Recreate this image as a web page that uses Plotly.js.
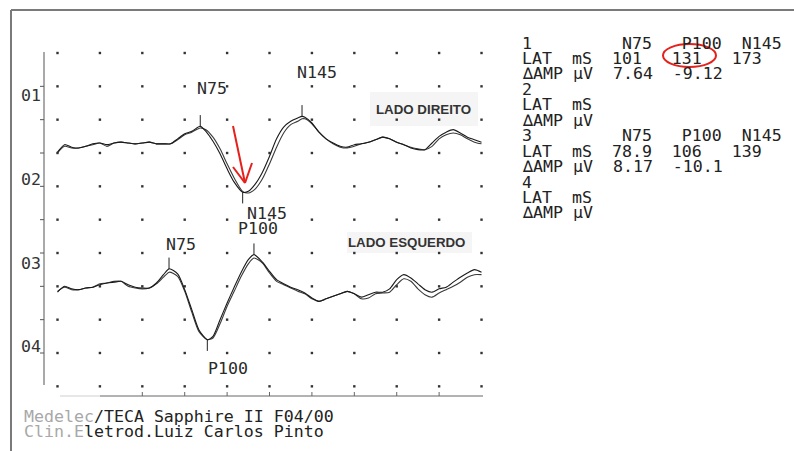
<!DOCTYPE html>
<html><head><meta charset="utf-8">
<script src="https://cdn.plot.ly/plotly-3.0.1.min.js"></script>
<style>html,body{margin:0;padding:0;background:#fff;} #chart{width:794px;height:451px;}</style>
</head><body><div id="chart"></div>
<script>
// ---- data (ms, µV; negative = up, as on the printout) ----
const timeTop = [0,5,10,15,20,25,30,35,40,45,50,55,60,65,70,75,80,85,90,95,101,105,110,115,120,125,131,135,140,145,150,155,160,165,170,173,175,180,185,190,195,200,205,210,215,220,225,230,235,240,245,250,255,260,265,270,275,280,285,290,295,300];
const topA = [0.9,0.0,0.3,0.4,0.2,-0.1,-0.2,0.0,-0.2,-0.3,-0.2,-0.1,-0.2,-0.3,-0.1,-0.1,-0.1,-0.7,-1.3,-1.6,-2.2,-1.6,-0.4,1.1,2.9,4.5,5.7,5.6,4.7,3.3,1.4,-0.7,-2.1,-2.8,-3.2,-3.4,-3.3,-2.6,-1.5,-0.7,-0.2,0.2,0.3,0.0,-0.1,-0.3,-0.6,-0.9,-0.7,-0.3,0.0,0.4,0.6,0.6,-0.2,-1.0,-1.5,-1.8,-1.4,-0.9,-0.6,-0.3];
const topB = [1.0,0.2,0.4,0.4,0.2,0.0,-0.2,0.2,-0.2,-0.3,-0.2,-0.1,-0.2,-0.3,-0.1,-0.1,-0.1,-0.6,-1.2,-1.5,-2.0,-1.8,-0.9,0.5,2.3,4.0,5.6,5.8,5.3,4.1,2.3,0.3,-1.4,-2.4,-2.8,-3.1,-3.1,-2.5,-1.5,-0.7,-0.1,0.3,0.4,0.2,-0.1,-0.3,-0.6,-0.9,-0.7,-0.3,0.0,0.3,0.5,0.6,0.2,-0.7,-1.2,-1.4,-1.2,-0.7,-0.3,-0.1];
const timeBottom = [0,5,10,15,20,25,30,35,40,45,50,55,60,65,70,75,79,85,90,95,100,106,110,115,120,125,130,135,139,145,150,155,160,165,170,175,180,185,190,195,200,205,210,215,220,225,230,235,240,245,250,255,260,265,270,275,280,285,290,295,300];
const botA = [0.7,0.0,0.3,0.4,0.2,0.1,-0.2,-0.4,-0.5,-0.6,-0.2,0.1,0.2,0.2,-0.4,-1.4,-2.1,-1.5,0.4,2.8,5.2,6.4,6.0,4.0,2.0,0.1,-1.7,-3.2,-3.8,-2.9,-1.8,-0.8,-0.3,0.1,0.4,0.8,1.4,1.8,1.5,1.2,0.9,0.6,0.9,1.3,1.0,0.7,0.7,0.3,-0.8,-1.4,-1.0,-0.3,0.4,0.7,0.3,0.1,-0.5,-1.1,-1.6,-2.0,-1.7];
const botB = [0.6,0.1,0.4,0.4,0.2,0.1,-0.3,-0.4,-0.6,-0.6,0.0,0.2,0.3,0.2,-0.3,-1.1,-1.7,-1.2,0.6,3.1,5.4,6.4,6.2,4.5,2.4,0.6,-1.2,-2.7,-3.4,-2.8,-1.6,-0.6,-0.2,0.2,0.6,0.9,1.5,1.8,1.5,1.2,0.9,0.6,0.9,1.5,1.4,0.9,0.8,0.7,-0.2,-0.9,-0.6,0.3,1.0,1.3,0.8,0.4,0.0,-0.5,-1.1,-1.4,-1.4];

const peakNames = ['N75','P100','N145'];
const latTop = [101,131,173];
const latBottom = [78.9,106,139];
const ampTop = ['7.64','-9.12'];
const ampBottom = ['8.17','-10.1'];
const channelLabels = ['01','02','03','04'];
const sideLabels = ['LADO DIREITO','LADO ESQUERDO'];
const footerLines = ['Medelec/TECA Sapphire II F04/00','Clin.Eletrod.Luiz Carlos Pinto'];
const gridTimes = [0,30,60,90,120,150,180,210,240,270,300];
const gridLevels = [0,4,8,12,16,20,24,28,32,36,40];
const xTickTimes = [60,90,120,150,180,210,240,270];
const yTickLevels = [4,8,12,16,20,24,28,32,36];

// ---- layout helpers ----
const offTop = 11, offBot = 28;           // vertical position of each pair on the sheet
const PX = px => (px - 38) / 452;          // page pixel -> paper
const PY = py => (400 - py) / 352;
const MONO = 'DejaVu Sans Mono, Liberation Mono, monospace';
const INK = '#222';

const traces = [];
// grid dots
const gx = [], gy = [];
gridLevels.forEach(l => gridTimes.forEach(t => { gx.push(t); gy.push(l); }));
traces.push({type:'scatter', mode:'markers', x:gx, y:gy, hoverinfo:'skip',
  marker:{symbol:'square', size:2.4, color:'#333', line:{width:0}}});

function wave(t, a, off, col) {
  traces.push({type:'scatter', mode:'lines', x:t, y:a.map(v => v + off),
    line:{color:col, width:1.1, shape:'spline', smoothing:0.7}, hoverinfo:'skip'});
}
wave(timeTop, topB, offTop, '#3a3a3a');
wave(timeTop, topA, offTop, '#1a1a1a');
wave(timeBottom, botB, offBot, '#3a3a3a');
wave(timeBottom, botA, offBot, '#1a1a1a');

// peak cursors
function cursors(t, a, lats, off) {
  lats.forEach((lat, i) => {
    let k = 0; t.forEach((v, j) => { if (Math.abs(v - lat) < Math.abs(t[k] - lat)) k = j; });
    const dir = peakNames[i][0] === 'N' ? -1 : 1;
    const y0 = a[k] + off;
    traces.push({type:'scatter', mode:'lines', x:[lat, lat], y:[y0, y0 + dir * 1.35],
      line:{color:INK, width:1}, hoverinfo:'skip'});
  });
}
cursors(timeTop, topA, latTop, offTop);
cursors(timeBottom, botA, latBottom, offBot);

// ---- shapes ----
const shapes = [];
const pline = (x0, y0, x1, y1, col, w) => shapes.push({type:'line', xref:'paper', yref:'paper',
  x0:PX(x0), y0:PY(y0), x1:PX(x1), y1:PY(y1), line:{color:col, width:w}});
// page frame
pline(11, 10, 794, 10, '#7a7a7a', 2);
pline(11, 10, 11, 451, '#7a7a7a', 2);
// y axis + ticks
pline(44, 52, 44, 385, '#555', 1);
yTickLevels.forEach(l => shapes.push({type:'line', xref:'paper', yref:'y', x0:PX(40), x1:PX(44), y0:l, y1:l, line:{color:'#555', width:1}}));
// x axis + ticks
pline(60, 396, 100, 396, '#cfcfcf', 1);
pline(100, 396, 483, 396, '#666', 1);
xTickTimes.forEach(t => shapes.push({type:'line', xref:'x', yref:'paper', x0:t, x1:t, y0:PY(396), y1:PY(392), line:{color:'#666', width:1}}));
// label backgrounds
shapes.push({type:'rect', xref:'paper', yref:'paper', x0:PX(370), x1:PX(478), y0:PY(126), y1:PY(92), fillcolor:'#f5f5f5', line:{width:0}, layer:'below'});
shapes.push({type:'rect', xref:'paper', yref:'paper', x0:PX(347), x1:PX(472), y0:PY(253), y1:PY(232), fillcolor:'#f5f5f5', line:{width:0}, layer:'below'});
// red arrow and circle (hand annotations on the sheet)
const RED = '#e6201b';
pline(233, 126, 245, 183, RED, 2);
pline(245, 183, 233, 167, RED, 2);
pline(245, 183, 252, 163, RED, 2);
shapes.push({type:'circle', xref:'paper', yref:'paper', x0:PX(663), x1:PX(716), y0:PY(67), y1:PY(44), line:{color:RED, width:2}});

// ---- annotations ----
const ann = [];
const txt = (text, x, y, opts = {}) => ann.push(Object.assign({text, x:PX(x), y:PY(y), xref:'paper', yref:'paper',
  xanchor:'left', yanchor:'middle', showarrow:false, font:{family:MONO, size:16.6, color:INK}, borderpad:0}, opts));

// channel labels on y axis
[95, 179, 263, 346].forEach((py, i) => txt(channelLabels[i], 20, py, {font:{family:MONO, size:16.6, color:'#333'}}));

// peak names on the waveforms (data coordinates)
const dtxt = (text, t, y) => ann.push({text, x:t, y:y, xref:'x', yref:'y', xanchor:'center', yanchor:'middle',
  showarrow:false, font:{family:MONO, size:16.6, color:'#2a2a2a'}, borderpad:0});
dtxt(peakNames[0], 109.5, 4.2);
dtxt(peakNames[2], 183.5, 2.3);
dtxt(peakNames[2], 148.5, 19.2);
dtxt(peakNames[1], 141.5, 21.0);
dtxt(peakNames[0], 87.5, 23.0);
dtxt(peakNames[1], 120.5, 37.8);

// side labels
const SANS = 'Liberation Sans, Arial, sans-serif';
ann.push({text:'<b>' + sideLabels[0] + '</b>', x:PX(423), y:PY(109), xref:'paper', yref:'paper', xanchor:'center', yanchor:'middle', showarrow:false,
  font:{family:SANS, size:13.3, color:'#333'}});
ann.push({text:'<b>' + sideLabels[1] + '</b>', x:PX(406), y:PY(242), xref:'paper', yref:'paper', xanchor:'center', yanchor:'middle', showarrow:false,
  font:{family:SANS, size:13.3, color:'#333'}});

// measurement table
const NB = '\u00A0';
const pad = (s, n) => s + NB.repeat(Math.max(0, n - s.length));
const rows = [];
function block(num, lats, amps) {
  if (lats) {
    rows.push(pad(String(num), 10) + pad(peakNames[0], 6) + pad(peakNames[1], 6) + peakNames[2]);
    rows.push(pad('LAT', 5) + pad('mS', 4) + pad(String(lats[0]), 6) + pad(String(lats[1]), 6) + String(lats[2]));
    rows.push(pad('\u2206AMP', 5) + pad('\u00B5V', 4) + pad(amps[0], 6) + amps[1]);
  } else {
    rows.push(String(num));
    rows.push(pad('LAT', 5) + 'mS');
    rows.push(pad('\u2206AMP', 5) + '\u00B5V');
  }
}
block(1, latTop, ampTop);
block(2, null, null);
block(3, latBottom, ampBottom);
block(4, null, null);
rows.forEach((r, i) => txt(r, 521, 43 + i * 15.45));

// footer
txt("<span style='color:#a8a8a8'>" + footerLines[0].slice(0, 7) + '</span>' + footerLines[0].slice(7), 23, 416);
txt("<span style='color:#a8a8a8'>" + footerLines[1].slice(0, 6) + '</span>' + footerLines[1].slice(6), 23, 431);

const layout = {
  width:794, height:451, margin:{l:38, r:304, t:48, b:51},
  paper_bgcolor:'#fff', plot_bgcolor:'rgba(0,0,0,0)', showlegend:false,
  xaxis:{range:[-13.8, 306.0], showgrid:false, zeroline:false, showline:false, showticklabels:false, ticks:''},
  yaxis:{range:[41.64, -0.6], showgrid:false, zeroline:false, showline:false, showticklabels:false, ticks:''},
  shapes, annotations:ann
};
Plotly.newPlot('chart', traces, layout, {displayModeBar:false, staticPlot:true});
</script></body></html>
